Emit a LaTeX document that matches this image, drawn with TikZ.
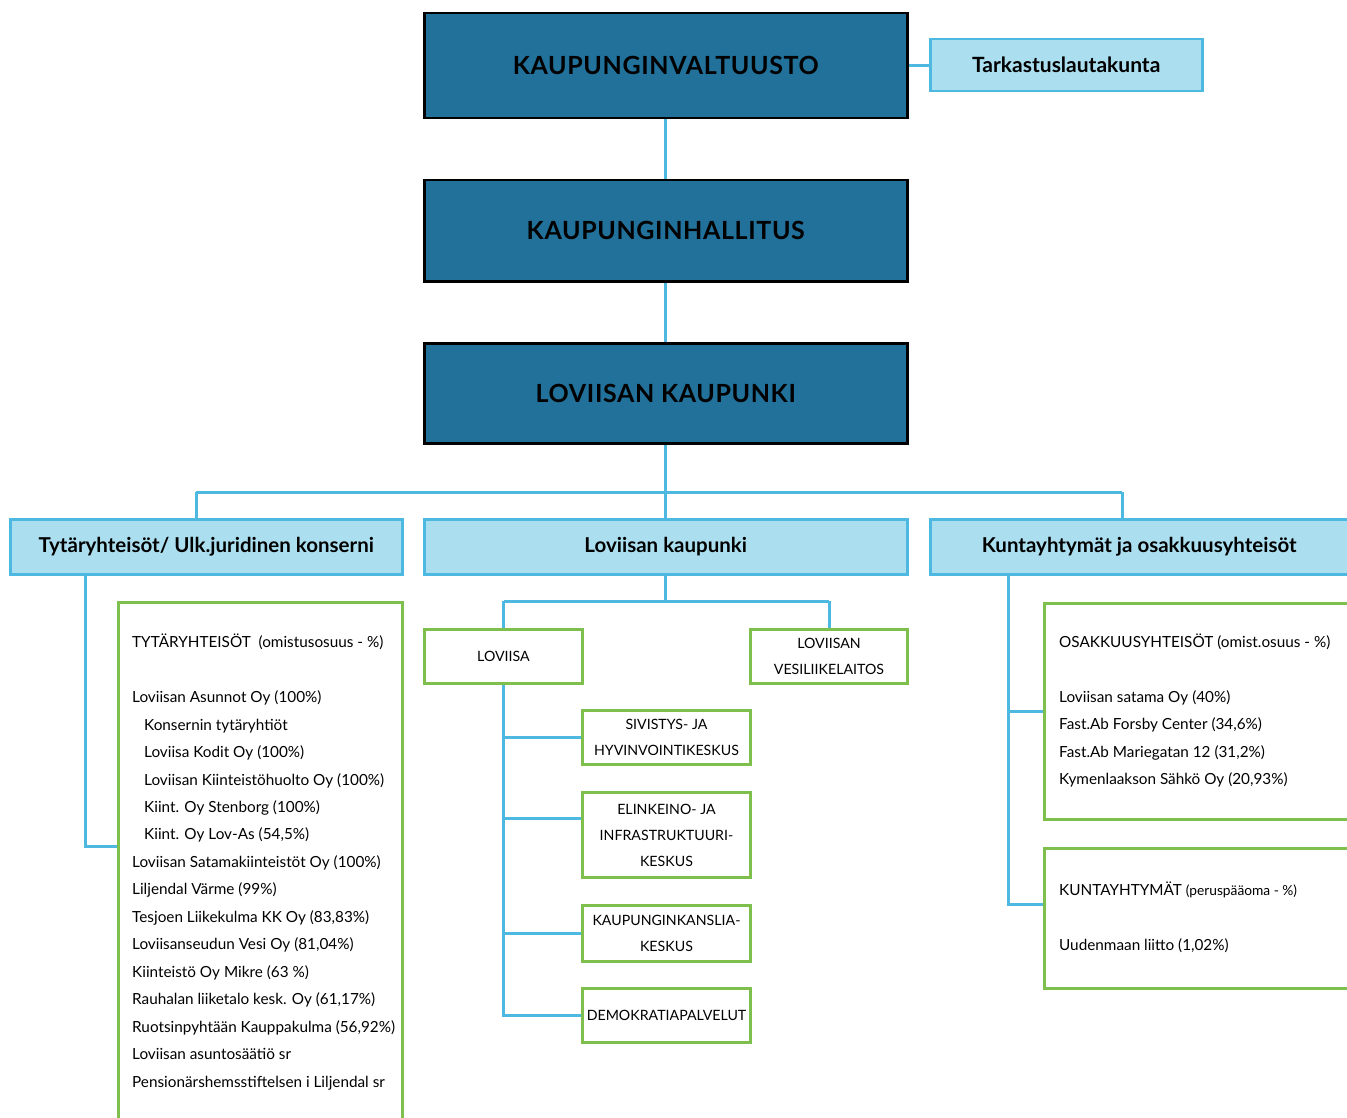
\documentclass[tikz,border=0pt]{standalone}
\usepackage{fontspec}
\setmainfont{Lato}
\definecolor{darkbox}{HTML}{21719A}
\definecolor{lightfill}{HTML}{ABDFEF}
\definecolor{lightline}{HTML}{4DB9E0}
\definecolor{greenline}{HTML}{7FBF4E}
\tikzset{
  topbox/.style={draw=black, line width=2.5pt, fill=darkbox, anchor=north west, inner sep=0pt, font=\bfseries\fontsize{25}{29}\selectfont\addfontfeature{LetterSpace=2.5}},
  headbox/.style={draw=lightline, line width=2.5pt, fill=lightfill, anchor=north west, inner sep=0pt, font=\bfseries\fontsize{20.5}{24}\selectfont},
  greenbox/.style={draw=greenline, line width=3pt, fill=white, anchor=north west, inner sep=0pt, align=center, font=\fontsize{14.2}{26}\selectfont},
  listtext/.style={anchor=north west, inner sep=0pt, align=left, font=\fontsize{15.3}{27.45}\selectfont},
  conn/.style={draw=lightline, line width=3pt},
}
\begin{document}
\begin{tikzpicture}[x=1pt, y=-1pt]
\useasboundingbox (0,0) rectangle (1347,1118);
\begin{scope}
\clip (0,0) rectangle (1347,1118);
% top boxes
\node[topbox, minimum width=483pt, minimum height=105pt] (kv) at (423,12) {KAUPUNGINVALTUUSTO};
\node[headbox, minimum width=272pt, minimum height=52pt, font=\bfseries\fontsize{21}{24}\selectfont] (tl) at (929,38) {Tarkastuslautakunta};
\node[topbox, minimum width=483pt, minimum height=101pt] (kh) at (423,179) {KAUPUNGINHALLITUS};
\node[topbox, minimum width=483pt, minimum height=100pt] (lk) at (423,342) {LOVIISAN KAUPUNKI};

\draw[conn] (kv.east |- tl.west) -- (tl.west);
\draw[conn] (kv.south) -- (kh.north);
\draw[conn] (kh.south) -- (lk.north);

% second level
\node[headbox, minimum width=392pt, minimum height=55pt] (ty) at (9,518) {Tytäryhteisöt/ Ulk.juridinen konserni};
\node[headbox, minimum width=483pt, minimum height=55pt] (lo) at (423,518) {Loviisan kaupunki};
\node[headbox, minimum width=418pt, minimum height=55pt] (ku) at (929,518) {Kuntayhtymät ja osakkuusyhteisöt};

\coordinate (jl) at (196,492);
\coordinate (jr) at (1122,492);
\draw[conn] (lk.south) -- (lk.south |- jl);
\draw[conn] (jl) -- (jr);
\draw[conn] (jl) -- (jl |- ty.north);
\draw[conn] (lo.north |- jl) -- (lo.north);
\draw[conn] (jr) -- (jr |- ku.north);

% left column
\node[greenbox, minimum width=284pt, minimum height=560pt] (tyb) at (117,601) {};
\coordinate (lcorner) at (85,846);
\draw[conn] (ty.south -| lcorner) -- (lcorner) -- (lcorner -| tyb.west);
\node[listtext] (tyt) at (132,634) {TYTÄRYHTEISÖT\ \ (omistusosuus - \%)\\[27.45pt]
Loviisan Asunnot Oy (100\%)\\
\hspace*{12pt}Konsernin tytäryhtiöt\\
\hspace*{12pt}Loviisa Kodit Oy (100\%)\\
\hspace*{12pt}Loviisan Kiinteistöhuolto Oy (100\%)\\
\hspace*{12pt}Kiint. Oy Stenborg (100\%)\\
\hspace*{12pt}Kiint. Oy Lov-As (54,5\%)\\
Loviisan Satamakiinteistöt Oy (100\%)\\
Liljendal Värme (99\%)\\
Tesjoen Liikekulma KK Oy (83,83\%)\\
Loviisanseudun Vesi Oy (81,04\%)\\
Kiinteistö Oy Mikre (63 \%)\\
Rauhalan liiketalo kesk. Oy (61,17\%)\\
Ruotsinpyhtään Kauppakulma (56,92\%)\\
Loviisan asuntosäätiö sr\\
Pensionärshemsstiftelsen i Liljendal sr};

% middle column
\coordinate (jm) at (664,601);
\node[greenbox, minimum width=158pt, minimum height=54pt] (lv) at (423,628) {LOVIISA};
\node[greenbox, minimum width=157pt, minimum height=54pt] (vl) at (749,628) {LOVIISAN\\VESILIIKELAITOS};
\draw[conn] (lo.south) -- (lo.south |- jm);
\draw[conn] (lv.north |- jm) -- (vl.north |- jm);
\draw[conn] (lv.north |- jm) -- (lv.north);
\draw[conn] (vl.north |- jm) -- (vl.north);

\node[greenbox, minimum width=168pt, minimum height=54pt] (sv) at (581,709) {SIVISTYS- JA\\HYVINVOINTIKESKUS};
\node[greenbox, minimum width=168pt, minimum height=85pt] (el) at (581,791) {ELINKEINO- JA\\INFRASTRUKTUURI-\\KESKUS};
\node[greenbox, minimum width=168pt, minimum height=56pt] (kk) at (581,904) {KAUPUNGINKANSLIA-\\KESKUS};
\node[greenbox, minimum width=168pt, minimum height=54pt] (dp) at (581,987) {DEMOKRATIAPALVELUT};

\coordinate (elj) at (581,818);
\draw[conn] (lv.south) -- (lv.south |- dp.west) -- (dp.west);
\draw[conn] (lv.south |- sv.west) -- (sv.west);
\draw[conn] (lv.south |- elj) -- (elj);
\draw[conn] (lv.south |- kk.west) -- (kk.west);

% right column
\node[greenbox, minimum width=320pt, minimum height=216pt] (os) at (1043,602) {};
\node[greenbox, minimum width=320pt, minimum height=140pt] (kt) at (1043,847) {};
\coordinate (rtop) at (1008,573);
\coordinate (ktj) at (1043,904);
\draw[conn] (ku.south -| rtop) -- (rtop |- ktj) -- (ktj);
\draw[conn] (rtop |- os.west) -- (os.west);

\node[listtext] (ost) at (1059,634) {OSAKKUUSYHTEISÖT (omist.osuus - \%)\\[27pt]
Loviisan satama Oy (40\%)\\
Fast.Ab Forsby Center (34,6\%)\\
Fast.Ab Mariegatan 12 (31,2\%)\\
Kymenlaakson Sähkö Oy (20,93\%)};
\node[listtext] (ktt) at (1059,882) {KUNTAYHTYMÄT {\fontsize{13.75}{27}\selectfont(peruspääoma - \%)}\\[27.5pt]
Uudenmaan liitto (1,02\%)};
\end{scope}
\end{tikzpicture}
\end{document}
